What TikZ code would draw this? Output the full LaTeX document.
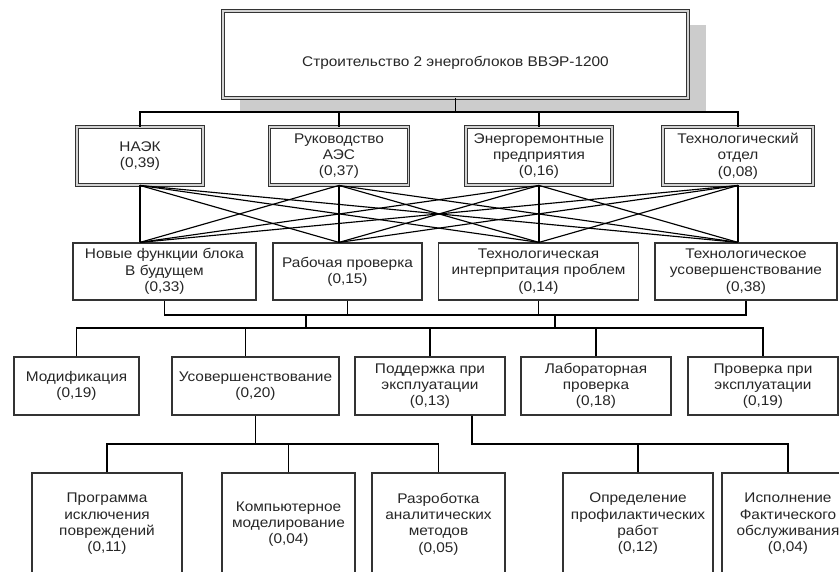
\documentclass[tikz,border=0pt]{standalone}
\usepackage{fontspec}
\setmainfont[FakeStretch=1.1]{Liberation Sans}
\usetikzlibrary{calc}
\newcommand\boxfont{\fontsize{14}{16.3}\selectfont}
\tikzset{
  box/.style={draw=black!80, line width=1.2pt, fill=white, align=center,
    inner sep=0pt, font=\boxfont, text=black!85},
  dbox/.style={box, double=gray!35, double distance=1.5pt, line width=0.9pt},
  ln/.style={draw=black, line width=1.15pt},
  shadowfill/.style={fill=gray!40, draw=none},
}
\begin{document}
\begin{tikzpicture}[x=1pt, y=-1pt]
\useasboundingbox (0,0) rectangle (839,572);
\clip (0,0) rectangle (839,572);
\fill[white] (0,0) rectangle (839,572);

% shadow of the top box
\path[shadowfill] (240,25) rectangle (706,111);

% top box
\node[dbox, minimum width=465pt, minimum height=87pt] (top) at (455.5,54.5) {};
\node[font=\boxfont, text=black!85, inner sep=0pt] (toplabel) at (455.5,63) {Строительство 2 энергоблоков ВВЭР-1200};

% second row
\node[dbox, minimum width=126pt, minimum height=58pt] (naek) at (140,156) {НАЭК\\(0,39)};
\node[dbox, minimum width=139pt, minimum height=58pt] (ruk) at (339,156) {Руководство\\АЭС\\(0,37)};
\node[dbox, minimum width=146pt, minimum height=58pt] (energo) at (539,156) {Энергоремонтные\\предприятия\\(0,16)};
\node[dbox, minimum width=150pt, minimum height=58pt] (tech) at (738,156) {Технологический\\отдел\\(0,08)};

% third row
\node[box, minimum width=183pt, minimum height=57pt] (nov) at (164.5,271.5) {Новые функции блока\\В будущем\\(0,33)};
\node[box, minimum width=149pt, minimum height=57pt] (rab) at (347.5,271.5) {Рабочая проверка\\(0,15)};
\node[box, minimum width=200pt, minimum height=57pt] (tint) at (538.5,271.5) {Технологическая\\интерпритация проблем\\(0,14)};
\node[box, minimum width=182pt, minimum height=57pt] (tusov) at (746,271.5) {Технологическое\\усовершенствование\\(0,38)};

% fourth row
\node[box, minimum width=125pt, minimum height=58pt] (mod) at (76.5,386) {Модификация\\(0,19)};
\node[box, minimum width=167pt, minimum height=58pt] (usov) at (255.5,386) {Усовершенствование\\(0,20)};
\node[box, minimum width=150pt, minimum height=58pt] (podd) at (430,386) {Поддержка при\\эксплуатации\\(0,13)};
\node[box, minimum width=150pt, minimum height=58pt] (lab) at (596,386) {Лабораторная\\проверка\\(0,18)};
\node[box, minimum width=150pt, minimum height=58pt] (prov) at (763,386) {Проверка при\\эксплуатации\\(0,19)};

% fifth row
\node[box, minimum width=150pt, minimum height=102pt] (prog) at (107,524) {Программа\\исключения\\повреждений\\(0,11)};
\node[box, minimum width=133pt, minimum height=102pt] (komp) at (288.5,524) {Компьютерное\\моделирование\\(0,04)};
\node[box, minimum width=133pt, minimum height=102pt] (razr) at (438.5,524) {Разроботка\\аналитических\\методов\\(0,05)};
\node[box, minimum width=150pt, minimum height=102pt] (opr) at (638,524) {Определение\\профилактических\\работ\\(0,12)};
\node[box, minimum width=132pt, minimum height=102pt] (isp) at (788,524) {Исполнение\\Фактического\\обслуживания\\(0,04)};

% top bus
\coordinate (ytop) at (0,112);
\draw[ln] (top.south) -- (top.south |- ytop);
\draw[ln] (naek.north) |- (tech.north |- ytop) -- (tech.north);
\draw[ln] (ruk.north) -- (ruk.north |- ytop);
\draw[ln] (energo.north) -- (energo.north |- ytop);

% full crossing between row 2 and row 3
\coordinate (c1) at (nov.north -| naek.south);
\coordinate (c2) at (rab.north -| ruk.south);
\coordinate (c3) at (tint.north -| energo.south);
\coordinate (c4) at (tusov.north -| tech.south);
\foreach \u in {naek,ruk,energo,tech}
  \foreach \c in {c1,c2,c3,c4}
    \draw[ln] (\u.south) -- (\c);

% row 3 -> row 4
\coordinate (busA) at (306,315);
\coordinate (busB) at (555,315);
\coordinate (busAl) at (306,328);
\coordinate (busBl) at (555,328);
\draw[ln] (nov.south) |- (tusov.south |- busA) -- (tusov.south);
\draw[ln] (rab.south) -- (rab.south |- busA);
\draw[ln] (tint.south) -- (tint.south |- busA);
\draw[ln] (busA) -- (busAl);
\draw[ln] (busB) -- (busBl);
\draw[ln] (mod.north) |- (prov.north |- busAl) -- (prov.north);
\coordinate (uin) at ($(usov.north)+(-10,0)$);
\draw[ln] (uin) -- (uin |- busAl);
\draw[ln] (podd.north) -- (podd.north |- busAl);
\draw[ln] (lab.north) -- (lab.north |- busAl);

% row 4 -> row 5
\coordinate (busC) at (0,444);
\draw[ln] (usov.south) -- (usov.south |- busC);
\draw[ln] (prog.north) |- (razr.north |- busC) -- (razr.north);
\draw[ln] (komp.north) -- (komp.north |- busC);
\coordinate (pout) at ($(podd.south)+(42,0)$);
\draw[ln] (pout) |- (isp.north |- busC) -- (isp.north);
\draw[ln] (opr.north) -- (opr.north |- busC);
\end{tikzpicture}
\end{document}
